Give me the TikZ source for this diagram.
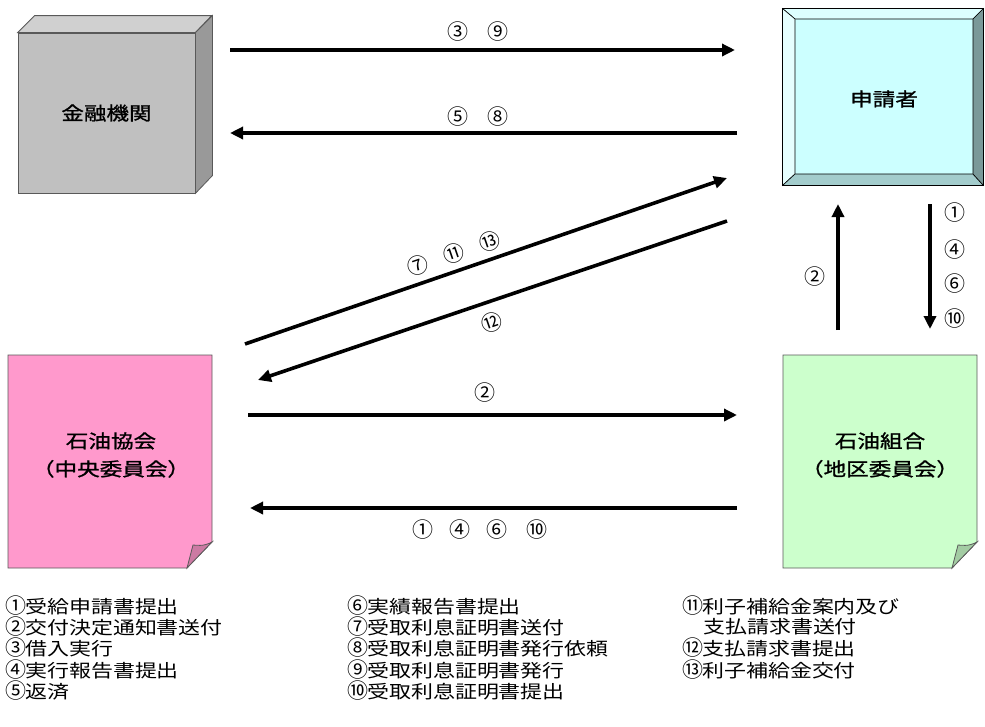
\documentclass[tikz,border=0pt]{standalone}
\usepackage{fontspec}
\setmainfont{Noto Sans CJK JP}
\newfontfamily\legfont[FakeStretch=1.22]{Noto Sans CJK JP}
\newfontfamily\boxfont[FakeStretch=1.22,FakeBold=1.2]{Noto Sans CJK JP}
\newfontfamily\numfont{Noto Sans CJK JP}
\newcommand\cnum[1]{\makebox[20pt][l]{\numfont\fontsize{21}{21}\selectfont #1}}
\usetikzlibrary{arrows.meta,calc}
\definecolor{cubefront}{HTML}{C0C0C0}
\definecolor{cubetop}{HTML}{D0D0D0}
\definecolor{cubeside}{HTML}{999999}
\definecolor{appin}{HTML}{CCFFFF}
\definecolor{apptop}{HTML}{DDFFFF}
\definecolor{appleft}{HTML}{E6FFFF}
\definecolor{appbot}{HTML}{A3CCCC}
\definecolor{appright}{HTML}{7A9999}
\definecolor{pinkn}{HTML}{FF99CC}
\definecolor{pinkf}{HTML}{CC7AA3}
\definecolor{greenn}{HTML}{CCFFCC}
\definecolor{greenf}{HTML}{A3CCA3}
\tikzset{
  arr/.style={line width=3.6pt,-{Triangle[length=13pt,width=12pt]}},
  boxtext/.style={font=\boxfont\fontsize{18.5}{28}\selectfont,align=center,text=black},
  num/.style={font=\numfont\fontsize{21}{21}\selectfont,inner sep=0pt},
  leg/.style={font=\legfont\fontsize{18}{21.3}\selectfont,anchor=west,align=left,inner sep=0pt},
  edge1/.style={draw=black!65,line width=0.8pt}
}
\begin{document}
\begin{tikzpicture}[x=1pt,y=-1pt]
\useasboundingbox (0,0) rectangle (985,726);
% ---- bank cube
\node[edge1,fill=cubefront,minimum width=177pt,minimum height=160pt,inner sep=0pt] (bank) at (106.5,113) {};
\filldraw[edge1,fill=cubetop] (bank.north west) -- ++(17,-17) -- ++(177,0) -- (bank.north east) -- cycle;
\filldraw[edge1,fill=cubeside] (bank.north east) -- ++(17,-17) -- ++(0,160) -- (bank.south east) -- cycle;
\node[boxtext] (banktext) at (bank.center) {金融機関};
% ---- applicant bevel
\node[draw=black,line width=0.8pt,fill=appin,minimum width=200pt,minimum height=176pt,inner sep=0pt] (app) at (883,97) {};
\coordinate (iNW) at (795,19); \coordinate (iNE) at (973,19);
\coordinate (iSW) at (795,174); \coordinate (iSE) at (973,174);
\filldraw[draw=black,line width=0.6pt,fill=apptop] (app.north west) -- (app.north east) -- (iNE) -- (iNW) -- cycle;
\filldraw[draw=black,line width=0.6pt,fill=appleft] (app.north west) -- (iNW) -- (iSW) -- (app.south west) -- cycle;
\filldraw[draw=black,line width=0.6pt,fill=appbot] (app.south west) -- (iSW) -- (iSE) -- (app.south east) -- cycle;
\filldraw[draw=black,line width=0.6pt,fill=appright] (app.north east) -- (iNE) -- (iSE) -- (app.south east) -- cycle;
\draw[black,line width=0.8pt] (app.north west) rectangle (app.south east);
\node[boxtext] (apptext) at (884,99) {申請者};
% ---- association note (pink)
\filldraw[edge1,fill=pinkn] (8,355) -- (212,355) -- (212,542) -- (187,568) -- (8,568) -- cycle;
\filldraw[edge1,fill=pinkf] (212,542) .. controls (203,547) and (196,545) .. (193,545) -- (187,568) -- cycle;
\node[boxtext] (assoc) at (111,455) {石油協会\\（中央委員会）};
% ---- union note (green)
\filldraw[edge1,fill=greenn] (783,355) -- (977,355) -- (977,542) -- (952,568) -- (783,568) -- cycle;
\filldraw[edge1,fill=greenf] (977,542) .. controls (968,547) and (961,545) .. (958,545) -- (952,568) -- cycle;
\node[boxtext] (union) at (880,455) {石油組合\\（地区委員会）};
% ---- arrow end points
\coordinate (a1s) at (230,50);  \coordinate (a1e) at (735,50);
\coordinate (a2s) at (737,133); \coordinate (a2e) at (230,133);
\coordinate (a3s) at (245,344); \coordinate (a3e) at (727,178);
\coordinate (a4s) at (727,221); \coordinate (a4e) at (258,380);
\coordinate (a5s) at (838,330); \coordinate (a5e) at (838,204);
\coordinate (a6s) at (930,204); \coordinate (a6e) at (930,329);
\coordinate (a7s) at (248,415); \coordinate (a7e) at (737,415);
\coordinate (a8s) at (737,508); \coordinate (a8e) at (250,508);
\draw[arr] (a1s) -- (a1e);
\draw[arr] (a2s) -- (a2e);
\draw[arr] (a3s) -- (a3e);
\draw[arr] (a4s) -- (a4e);
\draw[arr] (a5s) -- (a5e);
\draw[arr] (a6s) -- (a6e);
\draw[arr] (a7s) -- (a7e);
\draw[arr] (a8s) -- (a8e);
% ---- arrow labels
\node[num] (n3a) at (458,32) {③}; \node[num] (n9a) at (498,32) {⑨};
\node[num] (n5a) at (458,117) {⑤}; \node[num] (n8a) at (498,117) {⑧};
\node[num,rotate=19] (n7b) at (418,266) {⑦};
\node[num,rotate=19] (n11b) at (454,254) {⑪};
\node[num,rotate=19] (n13b) at (490,242) {⑬};
\node[num,rotate=19] (n12b) at (492,323) {⑫};
\node[num] (n2c) at (815,277) {②};
\node[num] (n1d) at (955,213) {①};
\node[num] (n4d) at (955,250) {④};
\node[num] (n6d) at (955,284) {⑥};
\node[num] (n10d) at (955,319) {⑩};
\node[num] (n2e) at (485,393) {②};
\node[num] (n1f) at (423,530) {①};
\node[num] (n4f) at (460,530) {④};
\node[num] (n6f) at (497,530) {⑥};
\node[num] (n10f) at (537,530) {⑩};
% ---- legend
\node[leg] (l1) at (5,606) {\cnum{①}受給申請書提出};
\node[leg] (l2) at (5,627) {\cnum{②}交付決定通知書送付};
\node[leg] (l3) at (5,648) {\cnum{③}借入実行};
\node[leg] (l4) at (5,670) {\cnum{④}実行報告書提出};
\node[leg] (l5) at (5,691) {\cnum{⑤}返済};
\node[leg] (l6) at (347,606) {\cnum{⑥}実績報告書提出};
\node[leg] (l7) at (347,627) {\cnum{⑦}受取利息証明書送付};
\node[leg] (l8) at (347,648) {\cnum{⑧}受取利息証明書発行依頼};
\node[leg] (l9) at (347,670) {\cnum{⑨}受取利息証明書発行};
\node[leg] (l10) at (347,691) {\cnum{⑩}受取利息証明書提出};
\node[leg] (l11) at (682,606) {\cnum{⑪}利子補給金案内及び};
\node[leg] (l11b) at (703,627) {支払請求書送付};
\node[leg] (l12) at (682,648) {\cnum{⑫}支払請求書提出};
\node[leg] (l13) at (682,670) {\cnum{⑬}利子補給金交付};
\end{tikzpicture}
\end{document}
